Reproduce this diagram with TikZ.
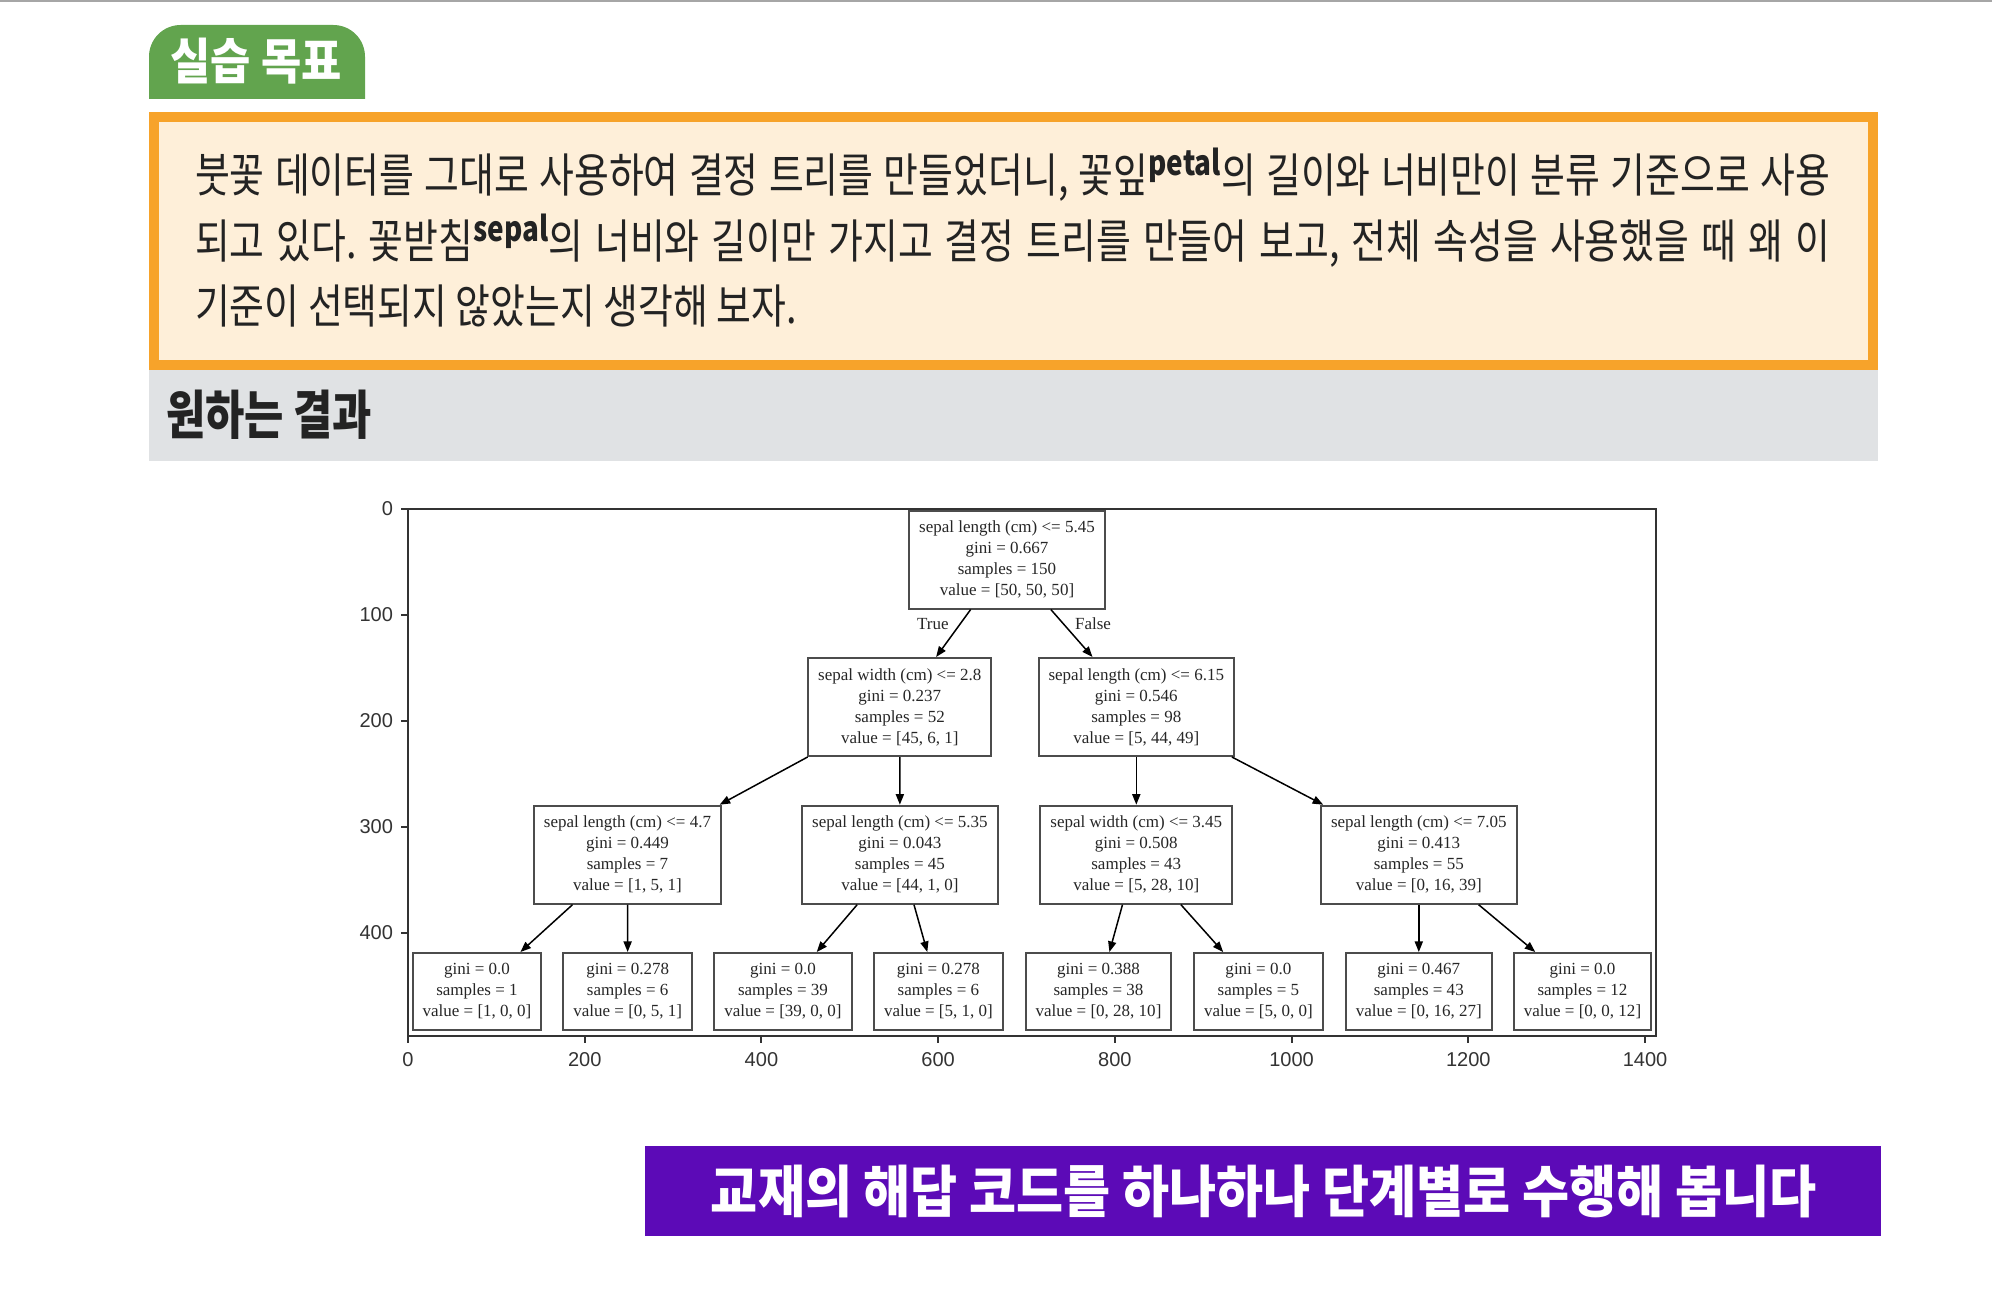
\documentclass[tikz,border=0pt]{standalone}
\usepackage{fontspec}
\usetikzlibrary{arrows.meta}
\newfontfamily\krfont{Noto Sans CJK KR}[FakeStretch=0.81]
\newfontfamily\krhead{Noto Sans CJK KR}[FakeStretch=0.89]
\newfontfamily\krwide{Noto Sans CJK KR}[FakeStretch=0.91]
\newfontfamily\treefont{Liberation Serif}
\newfontfamily\axisfont{Liberation Sans}
\newcommand\treetext{\treefont\fontsize{4.84}{5.97}\selectfont}
\newcommand\axistext{\axisfont\fontsize{5.7}{6}\selectfont}
\newcommand\supword[1]{\raisebox{.36em}{\fontsize{9.8}{10}\selectfont\bfseries #1}}
\definecolor{tabgreen}{RGB}{98,164,78}
\definecolor{boxorange}{RGB}{247,163,42}
\definecolor{boxcream}{RGB}{254,239,217}
\definecolor{bandgray}{RGB}{224,226,228}
\definecolor{barpurple}{RGB}{92,10,183}
\definecolor{inkgray}{RGB}{35,35,35}
\frenchspacing
\begin{document}
\begin{tikzpicture}[x=0.1mm, y=-0.1mm, semithick, every node/.style={inner sep=0pt}]
    \tikzset{tsplit/.style={draw=black!70, line width=0.2mm, rectangle, align=center, inner xsep=1mm, minimum height=9.8mm, font=\treetext, text=black!85}};
    \tikzset{tleaf/.style={tsplit, minimum height=7.7mm}};
    \tikzset{tedge/.style={-{Triangle[length=3pt,width=2.3pt]}, line width=0.15mm, black}};
    \tikzset{axline/.style={black!80, line width=0.2mm}};
    \tikzset{bodyline/.style={anchor=west, text=inkgray, font=\krfont\fontsize{13.3}{14}\selectfont}};
    \useasboundingbox (0,0) rectangle (1992,1295);
    % header
    \draw[black!35, line width=0.2mm] (0,1) -- (1992,1);
    \fill[tabgreen] (149,99) [rounded corners=9] -- (149,25) -- (365,25) [sharp corners] -- (365,99) -- cycle;
    \node[text=white, font=\krhead\fontsize{14}{15}\selectfont\bfseries] (tTab) at (256,61) {실습 목표};
    \draw[boxorange, fill=boxcream, line width=1mm] (154,117) rectangle (1873,365);
    \fill[bandgray] (149,370) rectangle (1878,461);
    \node[bodyline] (tLine1) at (194,175) {\makebox[163.5mm][s]{붓꽃 데이터를 그대로 사용하여 결정 트리를 만들었더니, 꽃잎\supword{petal}의 길이와 너비만이 분류 기준으로 사용}};
    \node[bodyline] (tLine2) at (194,241) {\makebox[163.5mm][s]{되고 있다. 꽃받침\supword{sepal}의 너비와 길이만 가지고 결정 트리를 만들어 보고, 전체 속성을 사용했을 때 왜 이}};
    \node[bodyline] (tLine3) at (194,306) {기준이 선택되지 않았는지 생각해 보자.};
    \node[anchor=west, text=inkgray, font=\krfont\fontsize{15}{16}\selectfont\bfseries] (tResult) at (165,415) {원하는 결과};
    % plot frame
    \draw[axline] (408,509) rectangle (1656,1036);
    \foreach \v in {0,100,...,400}
      \draw[axline] (408,{509+1.059*\v}) -- ++(-7,0) node[left, xshift=-0.7mm, font=\axistext, text=black!80] {\v};
    \foreach \u in {0,200,...,1400}
      \draw[axline] ({408+0.8836*\u},1036) -- ++(0,7) node[below, yshift=-0.9mm, font=\axistext, text=black!80] {\u};
    % tree
    \node[tsplit] (sRoot) at (1007,559.5) {sepal length (cm) <= 5.45\\gini = 0.667\\samples = 150\\value = [50, 50, 50]};
    \node[tsplit] (sL) at (899.8,707) {sepal width (cm) <= 2.8\\gini = 0.237\\samples = 52\\value = [45, 6, 1]};
    \node[tsplit] (sR) at (1136.3,707) {sepal length (cm) <= 6.15\\gini = 0.546\\samples = 98\\value = [5, 44, 49]};
    \node[tsplit] (sLL) at (627.5,854.7) {sepal length (cm) <= 4.7\\gini = 0.449\\samples = 7\\value = [1, 5, 1]};
    \node[tsplit] (sLR) at (899.9,854.7) {sepal length (cm) <= 5.35\\gini = 0.043\\samples = 45\\value = [44, 1, 0]};
    \node[tsplit] (sRL) at (1136.3,854.7) {sepal width (cm) <= 3.45\\gini = 0.508\\samples = 43\\value = [5, 28, 10]};
    \node[tsplit] (sRR) at (1418.8,854.7) {sepal length (cm) <= 7.05\\gini = 0.413\\samples = 55\\value = [0, 16, 39]};
    \node[tleaf] (sLLL) at (477,991.5) {gini = 0.0\\samples = 1\\value = [1, 0, 0]};
    \node[tleaf] (sLLR) at (627.7,991.5) {gini = 0.278\\samples = 6\\value = [0, 5, 1]};
    \node[tleaf] (sLRL) at (783,991.5) {gini = 0.0\\samples = 39\\value = [39, 0, 0]};
    \node[tleaf] (sLRR) at (938.4,991.5) {gini = 0.278\\samples = 6\\value = [5, 1, 0]};
    \node[tleaf] (sRLL) at (1098.5,991.5) {gini = 0.388\\samples = 38\\value = [0, 28, 10]};
    \node[tleaf] (sRLR) at (1258.4,991.5) {gini = 0.0\\samples = 5\\value = [5, 0, 0]};
    \node[tleaf] (sRRL) at (1418.8,991.5) {gini = 0.467\\samples = 43\\value = [0, 16, 27]};
    \node[tleaf] (sRRR) at (1582.5,991.5) {gini = 0.0\\samples = 12\\value = [0, 0, 12]};
    {
      \path[tedge]
        (sRoot) edge node[left, pos=0.3, xshift=-1.1mm, font=\treetext, text=black!85] {True} (sL)
        (sRoot) edge node[right, pos=0.3, xshift=1.1mm, font=\treetext, text=black!85] {False} (sR)
        (sL) edge (sLL)
        (sL) edge (sLR)
        (sR) edge (sRL)
        (sR) edge (sRR)
        (sLL) edge (sLLL)
        (sLL) edge (sLLR)
        (sLR) edge (sLRL)
        (sLR) edge (sLRR)
        (sRL) edge (sRLL)
        (sRL) edge (sRLR)
        (sRR) edge (sRRL)
        (sRR) edge (sRRR)
        ;
    }
    % footer bar
    \fill[barpurple] (645,1146) rectangle (1881,1236);
    \node[text=white, font=\krwide\fontsize{16}{17}\selectfont\bfseries] (tBar) at (1264,1191) {교재의 해답 코드를 하나하나 단계별로 수행해 봅니다};
\end{tikzpicture}
\end{document}
